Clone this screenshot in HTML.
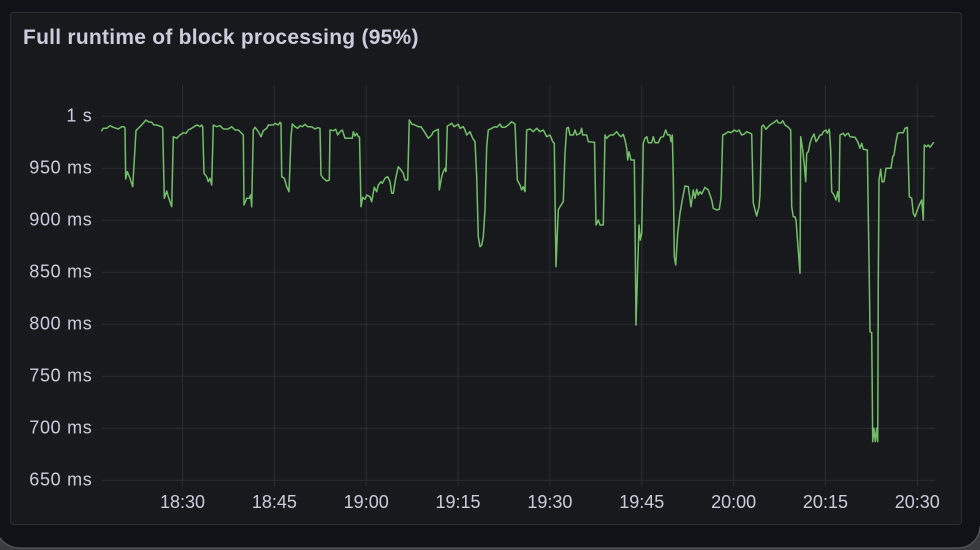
<!DOCTYPE html>
<html>
<head>
<meta charset="utf-8">
<style>
  html, body { margin: 0; padding: 0; width: 980px; height: 550px; overflow: hidden; background: #3a3b3f; }
  svg { display: block; }
  .t { font-family: "Liberation Sans", sans-serif; fill: #ccccdc; }
</style>
</head>
<body>
<svg width="980" height="550" viewBox="0 0 980 550" xmlns="http://www.w3.org/2000/svg">
  <rect x="0" y="0" width="980" height="550" fill="#3a3b3f"/>
  <path d="M -5 0 H 980 V 526 A 22 22 0 0 1 958 548 H 20 A 25 25 0 0 1 -5 523 Z" fill="#111217"/>
  <path d="M -5 523 A 25 25 0 0 0 20 548 H 958 A 22 22 0 0 0 980 526" fill="none" stroke="#55565b" stroke-width="1.2"/>

  <rect x="10.5" y="12.5" width="951" height="512" rx="3" ry="3" fill="#18191d" stroke="#2c2e33" stroke-width="1"/>

  <text class="t" x="23" y="44" font-size="21" font-weight="bold" letter-spacing="0.25">Full runtime of block processing (95%)</text>

  <g stroke="#2b2d32" stroke-width="1">
    <line x1="101" y1="116.3" x2="935" y2="116.3"/>
    <line x1="101" y1="168.3" x2="935" y2="168.3"/>
    <line x1="101" y1="220.3" x2="935" y2="220.3"/>
    <line x1="101" y1="272.3" x2="935" y2="272.3"/>
    <line x1="101" y1="324.3" x2="935" y2="324.3"/>
    <line x1="101" y1="376.3" x2="935" y2="376.3"/>
    <line x1="101" y1="428.3" x2="935" y2="428.3"/>
    <line x1="101" y1="480.3" x2="935" y2="480.3"/>
    <line x1="182.5" y1="85" x2="182.5" y2="486"/>
    <line x1="274.35" y1="85" x2="274.35" y2="486"/>
    <line x1="366.2" y1="85" x2="366.2" y2="486"/>
    <line x1="458.05" y1="85" x2="458.05" y2="486"/>
    <line x1="549.9" y1="85" x2="549.9" y2="486"/>
    <line x1="641.75" y1="85" x2="641.75" y2="486"/>
    <line x1="733.6" y1="85" x2="733.6" y2="486"/>
    <line x1="825.45" y1="85" x2="825.45" y2="486"/>
    <line x1="917.3" y1="85" x2="917.3" y2="486"/>
  </g>

  <g class="t" font-size="18" text-anchor="end" letter-spacing="0.7">
    <text x="92.5" y="121.3">1 s</text>
    <text x="92.5" y="173.3">950 ms</text>
    <text x="92.5" y="225.3">900 ms</text>
    <text x="92.5" y="277.3">850 ms</text>
    <text x="92.5" y="329.3">800 ms</text>
    <text x="92.5" y="381.3">750 ms</text>
    <text x="92.5" y="433.3">700 ms</text>
    <text x="92.5" y="485.3">650 ms</text>
  </g>

  <g class="t" font-size="18" text-anchor="middle">
    <text x="182.5" y="508">18:30</text>
    <text x="274.35" y="508">18:45</text>
    <text x="366.2" y="508">19:00</text>
    <text x="458.05" y="508">19:15</text>
    <text x="549.9" y="508">19:30</text>
    <text x="641.75" y="508">19:45</text>
    <text x="733.6" y="508">20:00</text>
    <text x="825.45" y="508">20:15</text>
    <text x="917.3" y="508">20:30</text>
  </g>

  <polyline fill="none" stroke="#73bf69" stroke-width="1.5" stroke-linejoin="round" stroke-linecap="round" points="
101.7,130.7 103.3,128.3 106.7,128.3 110,125.7 113.3,127.3 118.3,129 121.7,126.7 124,126.7 125,128
125.7,179 127.3,171.7 130,178.3 132.7,186.7 134.3,160 136,130.7 138.3,128.3 141.7,125 146,120
148.3,121.7 151.7,122.3 154,125 156.7,125 159.3,126 161.7,126.7 162.7,128 164.3,198.3 166.7,191
168.3,196.7 171.7,206.7 173.3,136.7 176.7,138.3 180,135 183.3,132.7 186,133.3 188.3,130 191.7,128.3
195,126 197.3,125 200,126.7 201.7,125 202.7,127 204,173.3 206.7,176.7 208.3,181.7 210,178.3
211.7,185 213.3,125 216.7,126.7 220,125.7 223.3,129 228.3,129 231.7,126.7 235,130 238.3,130
241.7,133.3 243.3,135 244,205 246.7,198.3 249.3,198.3 250.7,195 251.7,206.7 253.3,130 255,127.3
258.3,131.7 261,136.7 263.3,130.7 266.7,128.3 268.3,125 273.3,125 275,123.3 278.3,125 280,122.3
281,123.3 281.7,176.7 284.3,178.3 286.7,186.7 289,191.7 291,136.7 292.3,124 295,126.7 297.7,128.3
300,125.7 302.3,126.7 305,124.3 307.7,126.7 311.7,126.7 315,129 317.7,127.7 320,128.3 321,175
323.3,178.3 326.7,181 329.3,180 330,130 333.3,130.7 335.7,129.3 337.7,135 340,131.7 342.3,130
345,138.3 352.3,138.3 353.3,131.7 355,136 356.7,133.3 358.3,136.7 359.5,137 361,206.7 362.7,197.3
365,199.3 366.7,195 370,196.7 371.7,201.7 374.3,187.3 376.7,191.7 378.3,185 381,181.7 382.3,183.3
385,178.3 387.7,176.7 390,181.7 391.7,193.3 393.3,193.3 395.7,178.3 398.3,166.7 401,170 403.3,173.3
405,180 407.7,180 409.3,120 411.7,124 415,125 418.3,126.7 421,126.7 424.3,131.7 428.3,138.3
431.7,135 433.3,131.7 436.7,130 438.3,129.3 439.3,190 441.7,176.7 443.3,171.7 445,168.3 446,171.7
447.3,126 449.3,125 451.7,123.3 454,126.7 458.3,124.3 460,128.3 463.3,126.7 465,130 466.7,135
470,131.7 472.7,138.3 475,141.7 476.7,176.7 478.3,236.7 480,246.7 481.7,245 483.3,236.7 485,210
486.7,146.7 488.3,130 491.7,128.3 495,126.7 496.7,127.3 500,124 501.7,127.3 505,127.3 508.3,125
511.7,121.7 515,124 517.3,180 520,185 521.7,190 523.3,186.7 525,191.7 526.7,130 530,129
533.3,131.7 536.7,128.3 540,131.7 543.3,130 546.7,136.7 550,135 552.7,141.7 554.3,143.3 556,266.7
558.3,210 560,206.7 563.3,201.7 565,153.3 566.7,128.3 568.3,127.3 570,135 573.3,135 575,130
576.7,135 580,133.3 581.7,128.3 582.7,135 586.7,135 588.3,141.7 594.5,142.3 596,225 598.3,220
600,225 603.3,225 605,135 606.7,138.3 610,135 613.3,135 616.7,131.7 619,135 621,136.7 623.3,134.3
625,140 626.7,148.3 627.7,160 629,151.7 631,160 634.3,160 635,220 636,325 637.7,266.7 639,225
640.3,240 641.7,233.3 643.3,143.3 645,138.3 646.7,136.7 648.3,142.7 651.7,142.7 653.3,136.7
655,142.7 658.3,142.7 660.7,137.3 663.3,136.7 665.7,130 667.7,135 670,135 671,141.7 672.3,135
673.3,176.7 674.3,256.7 675.7,265 677.7,233.3 680,213.3 682.3,200 685,186 688.3,186.7 691,206.7
693.3,190 695,198.3 696.7,189.3 698.3,195 700,191.7 701.7,194 705,187.3 708.3,190 711.7,200
713.3,208.3 716.7,210 719.3,209.3 721,198.3 722.7,135 725,134 728.3,131.7 731,132.7 734.3,130
736.7,131.7 739,130 741.7,135 744.3,134 746.7,131.7 751.7,134 753.3,203.3 756.7,216 759,206.7
760,195 761.7,126.7 763.3,125 766,129.3 768.3,126.7 770,125 772.7,123.3 775,121.7 776.7,120
778.3,122.7 780.7,123.3 782.7,120.7 785,125 788.3,127.3 790.7,130 791.7,206.7 793.3,216.7
795,216.7 796,220 797.7,243.3 800,273.3 800.7,136.7 802.7,150 804.3,165 805.7,181.7 806.7,153.3
808.3,151.7 810,143.3 811.7,138.3 814,134 816,141.7 818.3,138.3 820,135 821.7,135 823.3,131.7
826,130 827.3,133.3 829.3,129.3 830.7,150 831.7,191.7 834,195 836,200 837.7,191.7 839,201.7
840,135 843.3,133.3 845,136 846.7,134 848.3,133.3 850,136.7 855,137.3 857.7,141.7 860,148.3
861.7,143.3 863.3,149.3 867.3,150 869.3,280 870,331.7 871.7,332.7 872.3,396.7 872.7,441.7
874,428.3 875.3,441.7 876.7,428.3 877.7,441.7 878.3,280 879,180 880.7,169.3 882,181.7 884,181.7
886,168.3 891,168.3 892.7,156.7 894,155 896,141.7 897.7,133.3 899.3,132.7 903.3,132.7 905,128.3
907.3,127.3 909.3,196.7 911.7,198.3 913.3,213.3 915,216.7 916.7,211.7 919.3,205 921.7,200
923.3,220 924.3,145 926.7,146.7 928.3,145 930,147.3 931.7,145 933.3,142.7"/>
</svg>
</body>
</html>
